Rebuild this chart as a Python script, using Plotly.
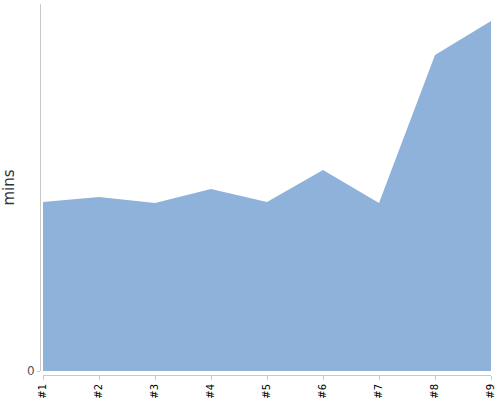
import plotly.graph_objects as go

categories = ["#1", "#2", "#3", "#4", "#5", "#6", "#7", "#8", "#9"]
minutes = [16.9, 17.4, 16.8, 18.2, 16.9, 20.1, 16.8, 31.6, 35.0]
y_ticks = [0]
y_tick_labels = ["0"]
y_title = "mins"

fig = go.Figure()
fig.add_trace(go.Scatter(
    x=list(range(len(categories))),
    y=minutes,
    mode="none",
    fill="tozeroy",
    fillcolor="#8fb2db",
    hoverinfo="skip",
))

W, H = 500, 400
l, r, t, b = 40, 9, 4, 25
pw = W - l - r
ph = H - t - b

fig.update_layout(
    width=W, height=H,
    margin=dict(l=l, r=r, t=t, b=b, pad=0),
    paper_bgcolor="white",
    plot_bgcolor="white",
    showlegend=False,
    hovermode=False,
    xaxis=dict(
        domain=[3 / pw, 1],
        anchor="free",
        position=0,
        range=[0, len(categories) - 1],
        tickmode="array",
        tickvals=list(range(len(categories))),
        ticktext=categories,
        tickangle=-90,
        tickfont=dict(family="DejaVu Sans", size=10, color="#000000"),
        showline=True,
        linecolor="#c8c8c8",
        linewidth=1,
        ticks="outside",
        ticklen=4,
        tickcolor="#c8c8c8",
        showgrid=False,
        zeroline=False,
        automargin=False,
    ),
    yaxis=dict(
        domain=[4 / ph, 1],
        anchor="free",
        position=0,
        range=[0, 36.7],
        tickmode="array",
        tickvals=y_ticks,
        ticktext=y_tick_labels,
        tickfont=dict(family="DejaVu Sans", size=12, color="#555555"),
        showline=True,
        linecolor="#c8c8c8",
        linewidth=1,
        ticks="outside",
        ticklen=3,
        tickcolor="#c8c8c8",
        showgrid=False,
        zeroline=False,
        title=dict(text=y_title, font=dict(family="DejaVu Sans", size=15, color="#333333"), standoff=7),
        automargin=False,
    ),
)

fig.write_html(
    "out.html",
    config={"displayModeBar": False},
    post_script="document.body.style.margin='0';document.body.style.padding='0';",
)
